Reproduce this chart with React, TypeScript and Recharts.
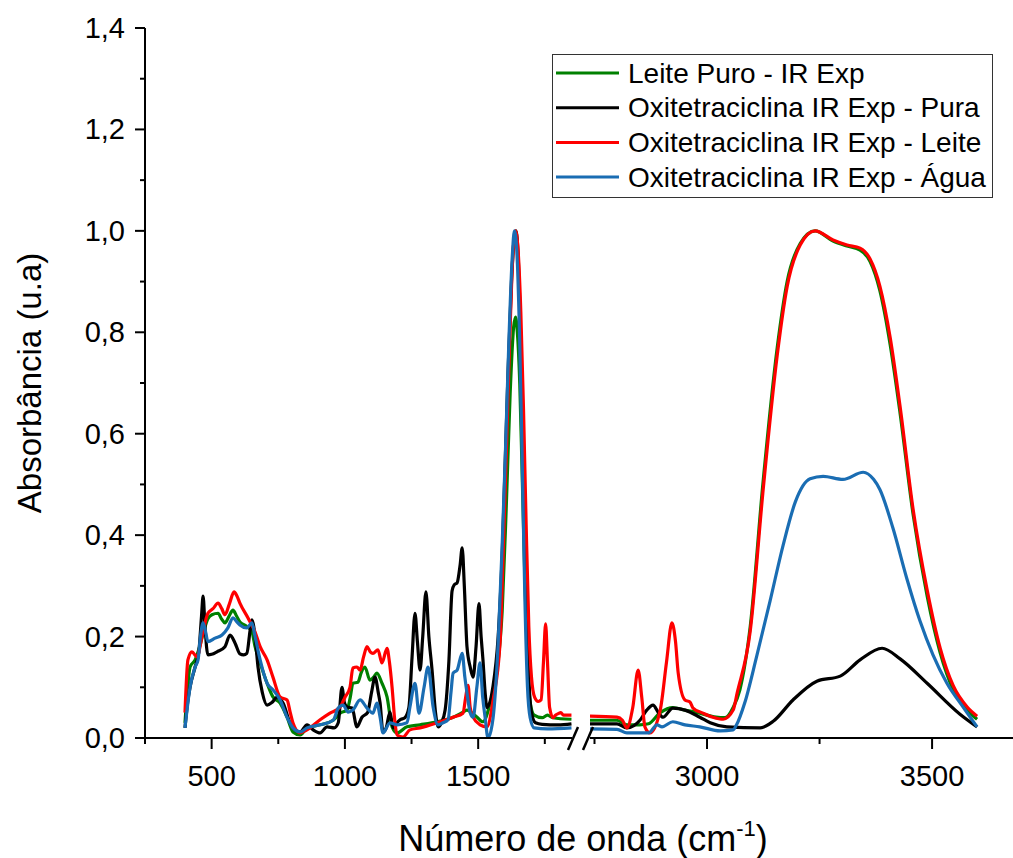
import React from 'react';
import { LineChart, Line, XAxis, YAxis } from 'recharts';

const FONT = '"Liberation Sans", Arial, Helvetica, sans-serif';

// Espectros: pares [número de onda (cm-1), absorbância normalizada]
// Faixa baixa (400–1850 cm-1)
const leitePuroBaixo: [number, number][] = [
  [400, 0.03], [410, 0.1], [419, 0.14], [438, 0.154], [455, 0.18], [470, 0.21], [486, 0.235], [501, 0.243],
  [524, 0.246], [537, 0.235], [550, 0.227], [565, 0.24], [580, 0.252], [594, 0.24], [606, 0.229], [632, 0.22],
  [651, 0.21], [663, 0.18], [682, 0.148], [708, 0.108], [730, 0.081], [757, 0.069], [783, 0.041], [805, 0.012],
  [832, 0.006], [858, 0.02], [907, 0.026], [956, 0.035], [982, 0.049], [1008, 0.055], [1020, 0.08], [1030, 0.108],
  [1049, 0.11], [1062, 0.13], [1075, 0.14], [1094, 0.114], [1108, 0.12], [1120, 0.128], [1139, 0.108], [1158, 0.081],
  [1177, 0.022], [1196, 0.01], [1233, 0.022], [1282, 0.026], [1346, 0.032], [1406, 0.041], [1440, 0.05], [1458, 0.055],
  [1475, 0.05], [1496, 0.041], [1518, 0.032], [1545, 0.069], [1571, 0.134], [1590, 0.25], [1605, 0.45], [1620, 0.68],
  [1633, 0.81], [1640, 0.83], [1647, 0.8], [1656, 0.7], [1665, 0.52], [1675, 0.32], [1685, 0.15], [1695, 0.07],
  [1710, 0.045], [1740, 0.04], [1760, 0.045], [1780, 0.04], [1850, 0.037],
];

const puraBaixo: [number, number][] = [
  [400, 0.02], [410, 0.07], [419, 0.1], [438, 0.14], [452, 0.17], [462, 0.24], [468, 0.28], [475, 0.22],
  [486, 0.164], [500, 0.165], [520, 0.17], [550, 0.18], [569, 0.203], [588, 0.187], [606, 0.166], [620, 0.164],
  [632, 0.167], [645, 0.215], [651, 0.233], [658, 0.22], [663, 0.2], [674, 0.14], [690, 0.09], [708, 0.065],
  [726, 0.07], [745, 0.08], [768, 0.069], [794, 0.03], [813, 0.016], [832, 0.012], [858, 0.026], [881, 0.016],
  [907, 0.01], [933, 0.022], [960, 0.02], [975, 0.03], [989, 0.1], [998, 0.07], [1008, 0.061], [1027, 0.059],
  [1045, 0.022], [1064, 0.041], [1085, 0.05], [1100, 0.09], [1113, 0.12], [1125, 0.09], [1132, 0.069], [1143, 0.012],
  [1155, 0.02], [1169, 0.051], [1181, 0.02], [1195, 0.03], [1207, 0.036], [1225, 0.04], [1240, 0.06], [1252, 0.16],
  [1263, 0.246], [1272, 0.19], [1282, 0.134], [1292, 0.2], [1304, 0.288], [1315, 0.2], [1327, 0.134], [1340, 0.05],
  [1350, 0.022], [1362, 0.03], [1376, 0.055], [1390, 0.15], [1402, 0.29], [1410, 0.302], [1421, 0.306], [1432, 0.34],
  [1440, 0.375], [1448, 0.3], [1458, 0.18], [1470, 0.14], [1481, 0.12], [1492, 0.18], [1503, 0.265], [1511, 0.2],
  [1518, 0.154], [1526, 0.09], [1533, 0.06], [1555, 0.1], [1575, 0.2], [1590, 0.36], [1600, 0.52], [1612, 0.72],
  [1625, 0.9], [1635, 0.985], [1642, 1.0], [1650, 0.95], [1660, 0.78], [1670, 0.55], [1680, 0.3], [1690, 0.12],
  [1700, 0.05], [1715, 0.03], [1740, 0.027], [1800, 0.026], [1850, 0.028],
];

const leiteBaixo: [number, number][] = [
  [400, 0.05], [411, 0.154], [426, 0.17], [445, 0.16], [464, 0.2], [486, 0.246], [505, 0.255], [524, 0.266],
  [538, 0.255], [550, 0.243], [567, 0.265], [584, 0.288], [595, 0.28], [606, 0.266], [636, 0.237], [663, 0.209],
  [682, 0.18], [708, 0.154], [730, 0.12], [757, 0.081], [783, 0.075], [795, 0.05], [805, 0.03], [832, 0.01],
  [858, 0.016], [907, 0.036], [944, 0.049], [982, 0.061], [1000, 0.08], [1019, 0.1], [1030, 0.138], [1045, 0.14],
  [1057, 0.134], [1070, 0.16], [1083, 0.18], [1095, 0.17], [1105, 0.167], [1124, 0.174], [1139, 0.148], [1158, 0.177],
  [1167, 0.15], [1177, 0.1], [1188, 0.03], [1196, 0.006], [1218, 0.002], [1244, 0.016], [1282, 0.02], [1346, 0.03],
  [1406, 0.041], [1443, 0.049], [1453, 0.08], [1462, 0.104], [1470, 0.06], [1481, 0.041], [1507, 0.026], [1533, 0.022],
  [1556, 0.075], [1582, 0.187], [1593, 0.35], [1605, 0.55], [1618, 0.78], [1630, 0.95], [1640, 1.0], [1650, 0.96],
  [1660, 0.84], [1670, 0.65], [1680, 0.42], [1690, 0.22], [1700, 0.12], [1712, 0.08], [1725, 0.072], [1736, 0.075],
  [1745, 0.15], [1753, 0.225], [1760, 0.15], [1768, 0.06], [1781, 0.04], [1790, 0.045], [1800, 0.048], [1810, 0.05],
  [1820, 0.045], [1850, 0.045],
];

const aguaBaixo: [number, number][] = [
  [400, 0.02], [419, 0.1], [438, 0.14], [449, 0.154], [458, 0.2], [468, 0.227], [477, 0.21], [486, 0.19],
  [513, 0.197], [539, 0.203], [561, 0.217], [580, 0.237], [593, 0.23], [606, 0.223], [632, 0.217], [651, 0.227],
  [663, 0.2], [682, 0.154], [708, 0.108], [730, 0.095], [757, 0.075], [783, 0.041], [805, 0.02], [832, 0.012],
  [858, 0.02], [907, 0.026], [956, 0.035], [975, 0.059], [993, 0.065], [1012, 0.051], [1030, 0.055], [1057, 0.075],
  [1083, 0.059], [1105, 0.049], [1120, 0.069], [1132, 0.041], [1143, 0.01], [1169, 0.03], [1196, 0.026], [1233, 0.03],
  [1244, 0.061], [1263, 0.108], [1278, 0.049], [1297, 0.1], [1312, 0.14], [1331, 0.061], [1349, 0.026], [1368, 0.03],
  [1387, 0.036], [1398, 0.09], [1406, 0.128], [1421, 0.134], [1440, 0.167], [1450, 0.12], [1458, 0.089], [1470, 0.05],
  [1481, 0.041], [1495, 0.1], [1507, 0.148], [1517, 0.08], [1526, 0.041], [1537, 0.0], [1556, 0.04], [1575, 0.187],
  [1590, 0.38], [1602, 0.56], [1615, 0.78], [1628, 0.95], [1636, 1.0], [1645, 0.96], [1655, 0.8], [1665, 0.55],
  [1675, 0.28], [1685, 0.1], [1695, 0.04], [1710, 0.02], [1760, 0.018], [1850, 0.02],
];

// Faixa alta (2740–3600 cm-1)
const leitePuroAlto: [number, number][] = [
  [2740, 0.035], [2800, 0.035], [2822, 0.026], [2850, 0.026], [2870, 0.028], [2896, 0.05], [2924, 0.06], [2951, 0.055],
  [2984, 0.049], [3020, 0.041], [3040, 0.04], [3058, 0.06], [3073, 0.095], [3096, 0.22], [3124, 0.5], [3156, 0.77],
  [3178, 0.9], [3207, 0.975], [3240, 1.0], [3280, 0.98], [3311, 0.97], [3340, 0.962], [3362, 0.94], [3384, 0.882],
  [3407, 0.775], [3429, 0.64], [3458, 0.44], [3489, 0.28], [3518, 0.168], [3547, 0.095], [3578, 0.055], [3600, 0.037],
];

const puraAlto: [number, number][] = [
  [2740, 0.028], [2800, 0.028], [2822, 0.02], [2851, 0.035], [2866, 0.055], [2880, 0.065], [2892, 0.05], [2902, 0.041],
  [2924, 0.059], [2951, 0.055], [2984, 0.041], [3007, 0.03], [3044, 0.022], [3118, 0.02], [3147, 0.033], [3191, 0.075],
  [3244, 0.112], [3296, 0.122], [3340, 0.154], [3389, 0.177], [3429, 0.156], [3489, 0.108], [3562, 0.047], [3600, 0.022],
];

const leiteAlto: [number, number][] = [
  [2740, 0.043], [2800, 0.041], [2812, 0.035], [2822, 0.02], [2835, 0.06], [2847, 0.134], [2855, 0.08], [2862, 0.022],
  [2873, 0.01], [2896, 0.055], [2910, 0.15], [2922, 0.227], [2930, 0.19], [2936, 0.128], [2951, 0.075], [2962, 0.071],
  [2969, 0.059], [2991, 0.049], [3013, 0.041], [3036, 0.037], [3058, 0.055], [3067, 0.089], [3096, 0.211], [3124, 0.483],
  [3156, 0.755], [3178, 0.89], [3207, 0.972], [3240, 1.0], [3280, 0.982], [3311, 0.972], [3340, 0.966], [3362, 0.945],
  [3384, 0.891], [3407, 0.789], [3429, 0.653], [3458, 0.45], [3489, 0.292], [3518, 0.177], [3547, 0.103], [3578, 0.061],
  [3600, 0.043],
];

const aguaAlto: [number, number][] = [
  [2740, 0.018], [2800, 0.017], [2822, 0.01], [2870, 0.01], [2889, 0.026], [2900, 0.022], [2924, 0.032], [2951, 0.026],
  [2984, 0.022], [3029, 0.014], [3058, 0.016], [3065, 0.025], [3084, 0.07], [3110, 0.16], [3140, 0.27], [3169, 0.38],
  [3196, 0.465], [3229, 0.511], [3258, 0.516], [3302, 0.51], [3347, 0.524], [3370, 0.51], [3384, 0.49], [3413, 0.414],
  [3444, 0.314], [3473, 0.231], [3502, 0.164], [3533, 0.108], [3569, 0.061], [3600, 0.022],
];

const series = [
  { id: 'leitePuro', name: 'Leite Puro - IR Exp', color: '#008000', low: leitePuroBaixo, high: leitePuroAlto },
  { id: 'pura', name: 'Oxitetraciclina IR Exp - Pura', color: '#000000', low: puraBaixo, high: puraAlto },
  { id: 'leite', name: 'Oxitetraciclina IR Exp - Leite', color: '#ff0000', low: leiteBaixo, high: leiteAlto },
  { id: 'agua', name: 'Oxitetraciclina IR Exp - Água', color: '#1a6db3', low: aguaBaixo, high: aguaAlto },
];

const yTicks = [0, 0.1, 0.2, 0.3, 0.4, 0.5, 0.6, 0.7, 0.8, 0.9, 1.0, 1.1, 1.2, 1.3, 1.4];
const xTicksBaixo = [250, 500, 750, 1000, 1250, 1500, 1750];
const xTicksAlto = [2750, 3000, 3250, 3500];
const xLabeled = [500, 1000, 1500, 3000, 3500];
const rightTicks = [1, 2, 3, 4];

const toRows = (pts: [number, number][]) => pts.map(([wn, a]) => ({ wn, a }));

const W = 1013;
const H = 858;
const LINE_W = 3.2;

const YTick = (props: any) => {
  const { x, y, payload } = props;
  const v = payload.value as number;
  const major = Math.round(v * 10) % 2 === 0;
  return (
    <g>
      <line x1={x} y1={y} x2={x - (major ? 10 : 5)} y2={y} stroke="#000" strokeWidth={2} />
      {major && (
        <text x={x - 20} y={y} textAnchor="end" dominantBaseline="central" fontSize={29} fontFamily={FONT} fill="#000">
          {v.toFixed(1).replace('.', ',')}
        </text>
      )}
    </g>
  );
};

const XTick = (props: any) => {
  const { x, y, payload } = props;
  const v = payload.value as number;
  const major = xLabeled.includes(v);
  return (
    <g>
      <line x1={x} y1={y} x2={x} y2={y + (major ? 11 : 6)} stroke="#000" strokeWidth={2} />
      {major && (
        <text x={x} y={y + 48} textAnchor="middle" fontSize={29} fontFamily={FONT} fill="#000">
          {v}
        </text>
      )}
    </g>
  );
};

const RightTick = (props: any) => {
  const { x, y } = props;
  return <line x1={x - 8} y1={y} x2={x} y2={y} stroke="#000" strokeWidth={2} />;
};

export default function App() {
  return (
    <div style={{ position: 'absolute', left: 0, top: 0, width: W, height: H, overflow: 'hidden', background: '#fff' }}>
      {/* faixa baixa */}
      <div style={{ position: 'absolute', left: 0, top: 0 }}>
        <LineChart width={600} height={H} margin={{ top: 28, right: 28, bottom: 60, left: 45 }}>
          <XAxis
            type="number"
            dataKey="wn"
            domain={[250, 1852]}
            ticks={xTicksBaixo}
            interval={0}
            height={60}
            tickSize={0}
            tickMargin={0}
            tickLine={false}
            axisLine={{ stroke: '#000', strokeWidth: 2 }}
            tick={<XTick />}
            allowDataOverflow
          />
          <YAxis
            type="number"
            domain={[0, 1.4]}
            ticks={yTicks}
            interval={0}
            width={100}
            tickSize={0}
            tickMargin={0}
            tickLine={false}
            axisLine={{ stroke: '#000', strokeWidth: 2 }}
            tick={<YTick />}
            allowDataOverflow
          />
          {series.map((s) => (
            <Line
              key={s.id}
              data={toRows(s.low)}
              dataKey="a"
              name={s.name}
              type="monotone"
              stroke={s.color}
              strokeWidth={LINE_W}
              dot={false}
              activeDot={false}
              isAnimationActive={false}
            />
          ))}
        </LineChart>
      </div>

      {/* faixa alta */}
      <div style={{ position: 'absolute', left: 0, top: 0 }}>
        <LineChart width={1028} height={H} margin={{ top: 28, right: 0, bottom: 60, left: 590 }}>
          <XAxis
            type="number"
            dataKey="wn"
            domain={[2740, 3682]}
            ticks={xTicksAlto}
            interval={0}
            height={60}
            tickSize={0}
            tickMargin={0}
            tickLine={false}
            axisLine={{ stroke: '#000', strokeWidth: 2 }}
            tick={<XTick />}
            allowDataOverflow
          />
          <YAxis yAxisId="abs" type="number" domain={[0, 1.4]} hide />
          <YAxis
            yAxisId="dir"
            orientation="right"
            type="number"
            domain={[0, 5]}
            ticks={rightTicks}
            interval={0}
            width={14}
            tickSize={0}
            tickMargin={0}
            tickLine={false}
            axisLine={false}
            tick={<RightTick />}
          />
          {series.map((s) => (
            <Line
              key={s.id}
              yAxisId="abs"
              data={toRows(s.high)}
              dataKey="a"
              name={s.name}
              type="monotone"
              stroke={s.color}
              strokeWidth={LINE_W}
              dot={false}
              activeDot={false}
              isAnimationActive={false}
            />
          ))}
        </LineChart>
      </div>

      {/* títulos, quebra do eixo e legenda */}
      <svg width={W} height={H} style={{ position: 'absolute', left: 0, top: 0, pointerEvents: 'none' }}>
        <line x1={568} y1={750} x2={578} y2={727} stroke="#000" strokeWidth={2.5} />
        <line x1={583} y1={750} x2={593} y2={727} stroke="#000" strokeWidth={2.5} />

        <text
          transform="translate(41, 383) rotate(-90)"
          textAnchor="middle"
          fontSize={33}
          fontFamily={FONT}
          fill="#000"
        >
          Absorbância (u.a)
        </text>
        <text x={583} y={851} textAnchor="middle" fontSize={36} fontFamily={FONT} fill="#000">
          Número de onda (cm
          <tspan dy={-15} fontSize={22}>-1</tspan>
          <tspan dy={15}>)</tspan>
        </text>

        <rect x={552.5} y={54.5} width={440} height={143} fill="#fff" stroke="#333" strokeWidth={1} />
        {series.map((s, i) => {
          const cy = 73 + i * 34.7;
          return (
            <g key={s.id}>
              <line x1={556} y1={cy} x2={619} y2={cy} stroke={s.color} strokeWidth={3} />
              <text x={628} y={cy} dominantBaseline="central" fontSize={28} fontFamily={FONT} fill="#000">
                {s.name}
              </text>
            </g>
          );
        })}
      </svg>
    </div>
  );
}
